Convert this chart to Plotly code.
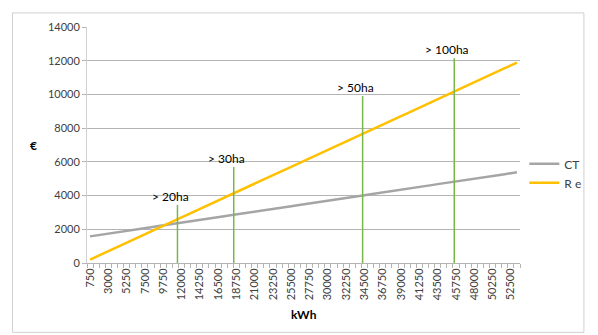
import plotly.graph_objects as go

# Data
kwh = [750 * (i + 1) for i in range(71)]
ct = [1580, 1630, 1690, 1740, 1800, 1850, 1910, 1960, 2010, 2070,
      2120, 2180, 2230, 2290, 2340, 2390, 2450, 2500, 2560, 2610,
      2670, 2720, 2770, 2830, 2880, 2940, 2990, 3050, 3100, 3150,
      3210, 3260, 3320, 3370, 3430, 3480, 3530, 3590, 3640, 3700,
      3750, 3810, 3860, 3910, 3970, 4020, 4080, 4130, 4190, 4240,
      4300, 4350, 4400, 4460, 4510, 4570, 4620, 4680, 4730, 4780,
      4840, 4890, 4950, 5000, 5060, 5110, 5160, 5220, 5270, 5330, 5380]
re = [200, 370, 530, 700, 870, 1040, 1200, 1370, 1540, 1700,
      1870, 2040, 2200, 2370, 2540, 2710, 2870, 3040, 3210, 3370,
      3540, 3710, 3870, 4040, 4210, 4380, 4540, 4710, 4880, 5040,
      5210, 5380, 5540, 5710, 5880, 6050, 6210, 6380, 6550, 6710,
      6880, 7050, 7210, 7380, 7550, 7720, 7880, 8050, 8220, 8380,
      8550, 8720, 8880, 9050, 9220, 9390, 9550, 9720, 9890, 10050,
      10220, 10390, 10550, 10720, 10890, 11060, 11220, 11390, 11560, 11720, 11890]
tick_labels = [str(v) for v in range(750, 52501, 2250)]
y_ticks = [0, 2000, 4000, 6000, 8000, 10000, 12000, 14000]
threshold_kwh = [11500, 18420, 34270, 45540]
threshold_top = [3450, 5700, 9900, 12150]
threshold_text = ["> 20ha", "> 30ha", "> 50ha", "> 100ha"]

FONT = "Lato, Open Sans, sans-serif"
TXT = "#404040"
GRID = "#B4B4B4"

fig = go.Figure()
fig.add_trace(go.Scatter(x=kwh, y=ct, mode="lines", name="CT",
                         line=dict(color="#A5A5A5", width=2.5)))
fig.add_trace(go.Scatter(x=kwh, y=re, mode="lines", name="R e",
                         line=dict(color="#FFC000", width=2.5)))

for t, top, txt in zip(threshold_kwh, threshold_top, threshold_text):
    fig.add_trace(go.Scatter(x=[t, t], y=[0, top], mode="lines", showlegend=False,
                             line=dict(color="#7AB648", width=1.5), hoverinfo="skip"))
    fig.add_annotation(x=t, y=top, text=txt, showarrow=False, xanchor="center",
                       yanchor="bottom", xshift=-7, yshift=-1,
                       font=dict(family=FONT, size=12, color="#000000"))

# page body has an 8px margin: figure is shrunk and offset accordingly
fig.update_layout(
    width=590, height=327,
    margin=dict(l=79, r=75.3, t=15.3, b=72.3),
    paper_bgcolor="white", plot_bgcolor="white",
    font=dict(family=FONT, size=11, color=TXT),
    legend=dict(x=1.01, y=0.38, xanchor="left", yanchor="middle",
                font=dict(family=FONT, size=12, color=TXT), bgcolor="rgba(0,0,0,0)"),
    xaxis=dict(range=[375, 53625], tickmode="array",
               tickvals=list(range(750, 52501, 2250)), ticktext=tick_labels,
               tickangle=-90, ticks="", showgrid=False, zeroline=False,
               showline=True, linecolor=GRID, linewidth=1,
               tickfont=dict(family=FONT, size=11, color=TXT),
               minor=dict(ticks="outside", tick0=375, dtick=750, ticklen=4,
                          tickcolor=GRID, showgrid=False)),
    yaxis=dict(range=[0, 14000], tickmode="array", tickvals=y_ticks,
               ticktext=[str(v) for v in y_ticks],
               showgrid=True, gridcolor=GRID, gridwidth=1, zeroline=False,
               showline=True, linecolor="#D0D0D0", linewidth=1,
               ticks="outside", ticklen=4, tickcolor=GRID,
               tickfont=dict(family=FONT, size=11, color=TXT)),
    shapes=[dict(type="rect", xref="paper", yref="paper",
                 x0=-0.172, x1=1.1476, y0=-0.2937, y1=1.0597,
                 line=dict(color="#D0D0D0", width=1), fillcolor="rgba(0,0,0,0)",
                 layer="below")],
)
fig.add_annotation(xref="paper", yref="paper", x=-0.136, y=0.5, text="<b>€</b>",
                   showarrow=False, font=dict(family=FONT, size=12, color="#000000"))
fig.add_annotation(xref="paper", yref="paper", x=0.5, y=-0.26, text="<b>kWh</b>",
                   showarrow=False, font=dict(family=FONT, size=12, color="#000000"))

fig.write_html("out.html")
